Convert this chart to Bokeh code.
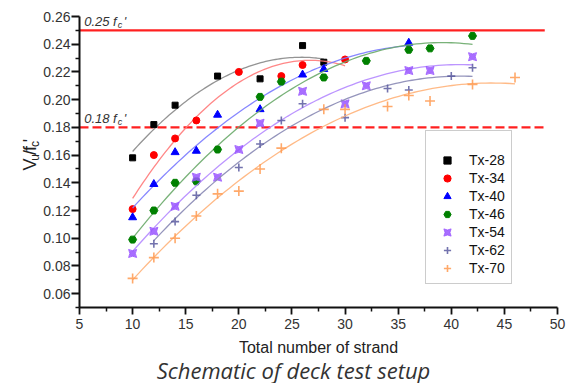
import numpy as np
from bokeh.plotting import figure
from bokeh.layouts import row, column
from bokeh.models import Label, Legend, LegendItem, FixedTicker, Range1d
from bokeh.embed import file_html
from bokeh.resources import INLINE

# ---------------- data ----------------
n28 = [10, 12, 14, 18, 22, 26, 28]
v28 = [0.158, 0.182, 0.196, 0.217, 0.215, 0.239, 0.227]
n34 = [10, 12, 14, 16, 20, 24, 26, 30]
v34 = [0.121, 0.160, 0.172, 0.185, 0.220, 0.217, 0.225, 0.229]
n40 = [10, 12, 14, 16, 18, 22, 26, 28, 36]
v40 = [0.115, 0.139, 0.162, 0.163, 0.189, 0.193, 0.218, 0.222, 0.241]
n46 = [10, 12, 14, 16, 18, 22, 24, 28, 32, 36, 38, 42]
v46 = [0.099, 0.120, 0.140, 0.141, 0.164, 0.202, 0.213, 0.216, 0.228, 0.236, 0.237, 0.246]
n54 = [10, 12, 14, 16, 18, 20, 22, 26, 30, 32, 36, 38, 42]
v54 = [0.089, 0.105, 0.123, 0.144, 0.144, 0.164, 0.183, 0.206, 0.197, 0.210, 0.221, 0.221, 0.231]
n62 = [12, 14, 16, 20, 22, 24, 26, 30, 34, 36, 40, 42]
v62 = [0.096, 0.112, 0.131, 0.151, 0.168, 0.185, 0.197, 0.187, 0.208, 0.207, 0.217, 0.223]
n70 = [10, 12, 14, 16, 18, 20, 22, 24, 28, 30, 34, 36, 38, 42, 46]
v70 = [0.071, 0.086, 0.100, 0.116, 0.132, 0.134, 0.150, 0.165, 0.193, 0.193, 0.195, 0.203, 0.199, 0.211, 0.216]

series_names = ["Tx-28", "Tx-34", "Tx-40", "Tx-46", "Tx-54", "Tx-62", "Tx-70"]
limit_levels = [0.25, 0.18]
limit_x = [5, 48.8]
x_ticks = [5, 10, 15, 20, 25, 30, 35, 40, 45, 50]
y_ticks = [0.06, 0.08, 0.10, 0.12, 0.14, 0.16, 0.18, 0.20, 0.22, 0.24, 0.26]
caption = "Schematic of deck test setup"

# ---------------- styles ----------------
styles = [
    dict(marker="square", color="#000000", size=6, alpha=1.0),
    dict(marker="circle", color="#ff0000", size=7, alpha=1.0),
    dict(marker="triangle", color="#0000ff", size=8, alpha=1.0),
    dict(marker="hex", color="#008000", size=8, alpha=1.0),
    dict(marker="square_pin", color="#9955ff", size=8, alpha=0.85),
    dict(marker="cross", color="#5a5aa0", size=8, alpha=0.85),
    dict(marker="cross", color="#ff9a50", size=10, alpha=0.85),
]
line_colors = ["#888888", "#ff7a7a", "#7a7aff", "#6aaa6a", "#b58aff", "#8a8ab5", "#ffb37a"]

W, H = 569, 383
YL_W = 40        # width of the strip holding the rotated y label
CAP_H = 24       # height of the caption strip
PH = H - CAP_H   # height of the plot row


def blank(width, height):
    f = figure(width=width, height=height, output_backend="svg", toolbar_location=None,
               x_range=Range1d(0, width), y_range=Range1d(0, height),
               x_axis_type=None, y_axis_type=None, min_border=0)
    f.outline_line_color = None
    f.grid.visible = False
    return f


p = figure(width=W - YL_W, height=PH, output_backend="svg", toolbar_location=None,
           x_range=Range1d(5, 50), y_range=Range1d(0.05, 0.26),
           min_border_left=77 - YL_W, min_border_right=12, min_border_top=16,
           min_border_bottom=PH - 16 - 291)
p.outline_line_color = None
p.grid.visible = False
p.background_fill_color = "white"

# limit lines
p.segment(x0=limit_x[0], x1=limit_x[1], y0=limit_levels[0], y1=limit_levels[0],
          line_color="#ff2020", line_width=2.2)
p.segment(x0=limit_x[0], x1=limit_x[1], y0=limit_levels[1], y1=limit_levels[1],
          line_color="#ff2020", line_width=2.2, line_dash="9 4")

xs = [n28, n34, n40, n46, n54, n62, n70]
ys = [v28, v34, v40, v46, v54, v62, v70]

items = []
for name, xv, yv, st, lc in zip(series_names, xs, ys, styles, line_colors):
    coef = np.polyfit(xv, yv, 2)
    xf = np.linspace(min(xv), max(xv), 80)
    p.line(xf, np.polyval(coef, xf), line_color=lc, line_width=1.3, line_alpha=0.9)
    if st["marker"] == "cross":
        r = p.scatter(xv, yv, marker="cross", size=st["size"], line_color=st["color"],
                      line_width=1.6, line_alpha=st["alpha"])
    else:
        r = p.scatter(xv, yv, marker=st["marker"], size=st["size"], fill_color=st["color"],
                      line_color=st["color"], fill_alpha=st["alpha"], line_alpha=st["alpha"])
    items.append(LegendItem(label=name, renderers=[r]))

legend = Legend(items=items, location=(346, 23), title=" ",
                title_text_font_size="11px", title_standoff=2,
                label_text_font="Liberation Sans", label_text_font_size="14px",
                label_text_color="#111111", label_height=18, glyph_height=18,
                glyph_width=30, label_standoff=7, spacing=0, padding=6, margin=0,
                border_line_color="#999999", border_line_width=1.2)
p.add_layout(legend)

# axes
for ax in (p.xaxis[0], p.yaxis[0]):
    ax.axis_line_width = 2
    ax.axis_line_color = "#111111"
    ax.major_tick_line_width = 1.8
    ax.minor_tick_line_width = 1.5
    ax.major_tick_line_color = "#111111"
    ax.minor_tick_line_color = "#111111"
    ax.major_tick_in = 0
    ax.minor_tick_in = 0
    ax.major_label_text_font = "Liberation Sans"
    ax.major_label_text_color = "#333333"

p.xaxis.ticker = FixedTicker(ticks=x_ticks,
                             minor_ticks=list(np.arange(7.5, 50, 5.0)))
p.yaxis.ticker = FixedTicker(ticks=y_ticks,
                             minor_ticks=list(np.round(np.arange(0.05, 0.26, 0.02), 2)))
p.xaxis.major_label_overrides = {t: str(t) for t in x_ticks}
p.yaxis.major_label_overrides = {t: f"{t:.2f}" for t in y_ticks}
p.xaxis.major_tick_out = 7
p.xaxis.minor_tick_out = 4
p.yaxis.major_tick_out = 8
p.yaxis.minor_tick_out = 4
p.xaxis.major_label_standoff = 4
p.yaxis.major_label_standoff = 1
p.xaxis.major_label_text_font_size = "14px"
p.yaxis.major_label_text_font_size = "14px"

p.xaxis.axis_label = "Total number of strand"
p.xaxis.axis_label_text_font = "Liberation Sans"
p.xaxis.axis_label_text_font_style = "normal"
p.xaxis.axis_label_text_font_size = "16px"
p.xaxis.axis_label_text_color = "#222222"
p.xaxis.axis_label_standoff = 7

# limit labels "0.25 f_c'" / "0.18 f_c'"
for lvl, txt in zip(limit_levels, ["0.25 f", "0.18 f"]):
    common = dict(x=5.44, y=lvl, text_font="Liberation Sans", text_font_style="italic",
                  text_color="#333333", text_baseline="middle")
    p.add_layout(Label(text=txt, y_offset=9, text_font_size="13px", **common))
    p.add_layout(Label(text="c", x_offset=33.5, y_offset=5.5, text_font_size="9px", **common))
    p.add_layout(Label(text="'", x_offset=39.5, y_offset=9, text_font_size="13px", **common))

# rotated y label  V_u / f_c'  in its own strip (coordinates = pixels, y up)
yfig = blank(YL_W, PH)
ylab = dict(angle=90, angle_units="deg", text_font="Liberation Sans", text_color="#222222",
            text_baseline="middle", text_align="left")
main_x, sub_x = 29, 34
pieces = [("V", main_x, 190, "18px"), ("u", sub_x, 178, "12px"), ("/", main_x, 171, "18px"),
          ("f", main_x, 166, "18px"), ("c", sub_x, 161, "12px"), ("'", main_x, 155, "18px")]
for t, xx, page_y, fs in pieces:
    yfig.add_layout(Label(x=xx, y=PH - page_y, text=t, text_font_size=fs, **ylab))

# caption strip (page y of the text centre = 369)
cap = blank(W, CAP_H)
cap.add_layout(Label(x=293, y=H - 369, text=caption, text_font="Open Sans",
                     text_font_style="italic", text_font_size="22px", text_color="#333333",
                     text_align="center", text_baseline="middle"))

layout = column(row(yfig, p, spacing=0), cap, spacing=0)
open("out.html", "w").write(file_html(layout, INLINE))
